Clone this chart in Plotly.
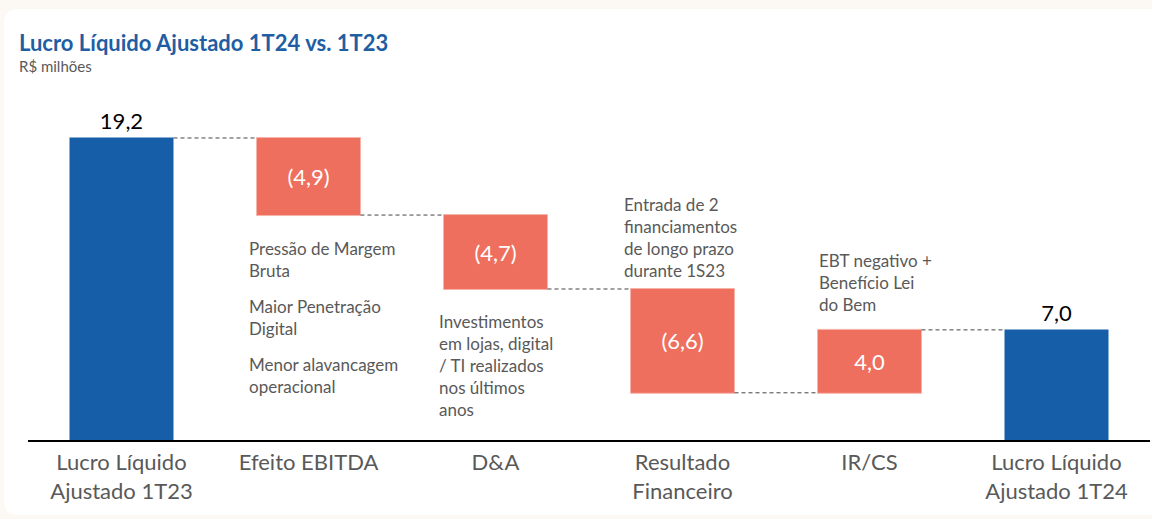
import plotly.graph_objects as go

categories = ["Lucro Líquido<br>Ajustado 1T23", "Efeito EBITDA", "D&A",
              "Resultado<br>Financeiro", "IR/CS", "Lucro Líquido<br>Ajustado 1T24"]
values = [19.2, -4.9, -4.7, -6.6, 4.0, 7.0]
measures = ["absolute", "relative", "relative", "relative", "relative", "total"]
labels = ["19,2", "(4,9)", "(4,7)", "(6,6)", "4,0", "7,0"]
text_positions = ["outside", "inside", "inside", "inside", "inside", "outside"]

notes = [
    ("Pressão de Margem<br>Bruta", 247, 259),
    ("Maior Penetração<br>Digital", 247, 317),
    ("Menor alavancagem<br>operacional", 247, 375),
    ("Investimentos<br>em lojas, digital<br>/ TI realizados<br>nos últimos<br>anos", 437, 365),
    ("Entrada de 2<br>financiamentos<br>de longo prazo<br>durante 1S23", 622, 237),
    ("EBT negativo +<br>Benefício Lei<br>do Bem", 817, 282),
]

BLUE = "#165ea8"
SALMON = "#ef6f5e"
FONT = "Lato"

W, H = 1152, 519
L, R, T, B = 28, 2, 100, 79
PW, PH = W - L - R, H - T - B

fig = go.Figure(go.Waterfall(
    x=categories,
    y=values,
    measure=measures,
    text=labels,
    textposition=text_positions,
    insidetextanchor="middle",
    insidetextfont=dict(color="white", size=22, family=FONT),
    outsidetextfont=dict(color="black", size=22, family=FONT),
    textfont=dict(size=22, family=FONT),
    cliponaxis=False,
    increasing=dict(marker=dict(color=SALMON, line=dict(color="#f7b4aa", width=1))),
    decreasing=dict(marker=dict(color=SALMON, line=dict(color="#f7b4aa", width=1))),
    totals=dict(marker=dict(color=BLUE, line=dict(color=BLUE, width=0))),
    connector=dict(line=dict(color="#444444", width=1, dash="4px,3px")),
    hoverinfo="skip",
))

# card background
fig.add_shape(type="path", xref="paper", yref="paper",
              path="M {x0},{y0} L {x1},{y0} L {x1},{y1} L {x0r},{y1} Q {x0},{y1} {x0},{y1r} L {x0},{y0r} Q {x0},{y0} {x0r},{y0} Z".format(
                  x0=(4 - L) / PW, x1=(W + 60 - L) / PW, x0r=(18 - L) / PW,
                  y0=(H - 9 - B) / PH, y1=(H - 515 - B) / PH,
                  y0r=(H - 23 - B) / PH, y1r=(H - 501 - B) / PH),
              fillcolor="white", line=dict(width=0), layer="below")

for txt, px, py in notes:
    fig.add_annotation(text=txt, xref="paper", yref="paper",
                       x=(px - L) / PW, y=(H - B - py) / PH,
                       xanchor="left", yanchor="middle", align="left",
                       showarrow=False,
                       font=dict(family=FONT, size=17, color="#595959"))

fig.add_annotation(text="<b>Lucro Líquido Ajustado 1T24 vs. 1T23</b>", xref="paper", yref="paper",
                   x=(17 - L) / PW, y=(H - B - 43) / PH, xanchor="left", yanchor="middle",
                   showarrow=False, font=dict(family=FONT, size=22, color="#1f5ea3"))
fig.add_annotation(text="R$ milhões", xref="paper", yref="paper",
                   x=(17 - L) / PW, y=(H - B - 66) / PH, xanchor="left", yanchor="middle",
                   showarrow=False, font=dict(family=FONT, size=15, color="#595959"))

fig.update_layout(
    width=W, height=H,
    margin=dict(l=L, r=R, t=T, b=B, autoexpand=False),
    paper_bgcolor="#fcf8f4",
    plot_bgcolor="white",
    showlegend=False,
    waterfallgap=0.444,
    font=dict(family=FONT),
)
fig.update_xaxes(showline=True, linecolor="black", linewidth=2, ticks="",
                 tickfont=dict(size=22, color="#595959", family=FONT),
                 ticklabelstandoff=2,
                 showgrid=False, fixedrange=True, automargin=False)
fig.update_yaxes(range=[0, PH / 15.73], visible=False, showgrid=False, fixedrange=True,
                 automargin=False)

fig.write_html("out.html", config={"displayModeBar": False},
               post_script="document.body.style.margin='0';document.body.style.overflow='hidden';")
